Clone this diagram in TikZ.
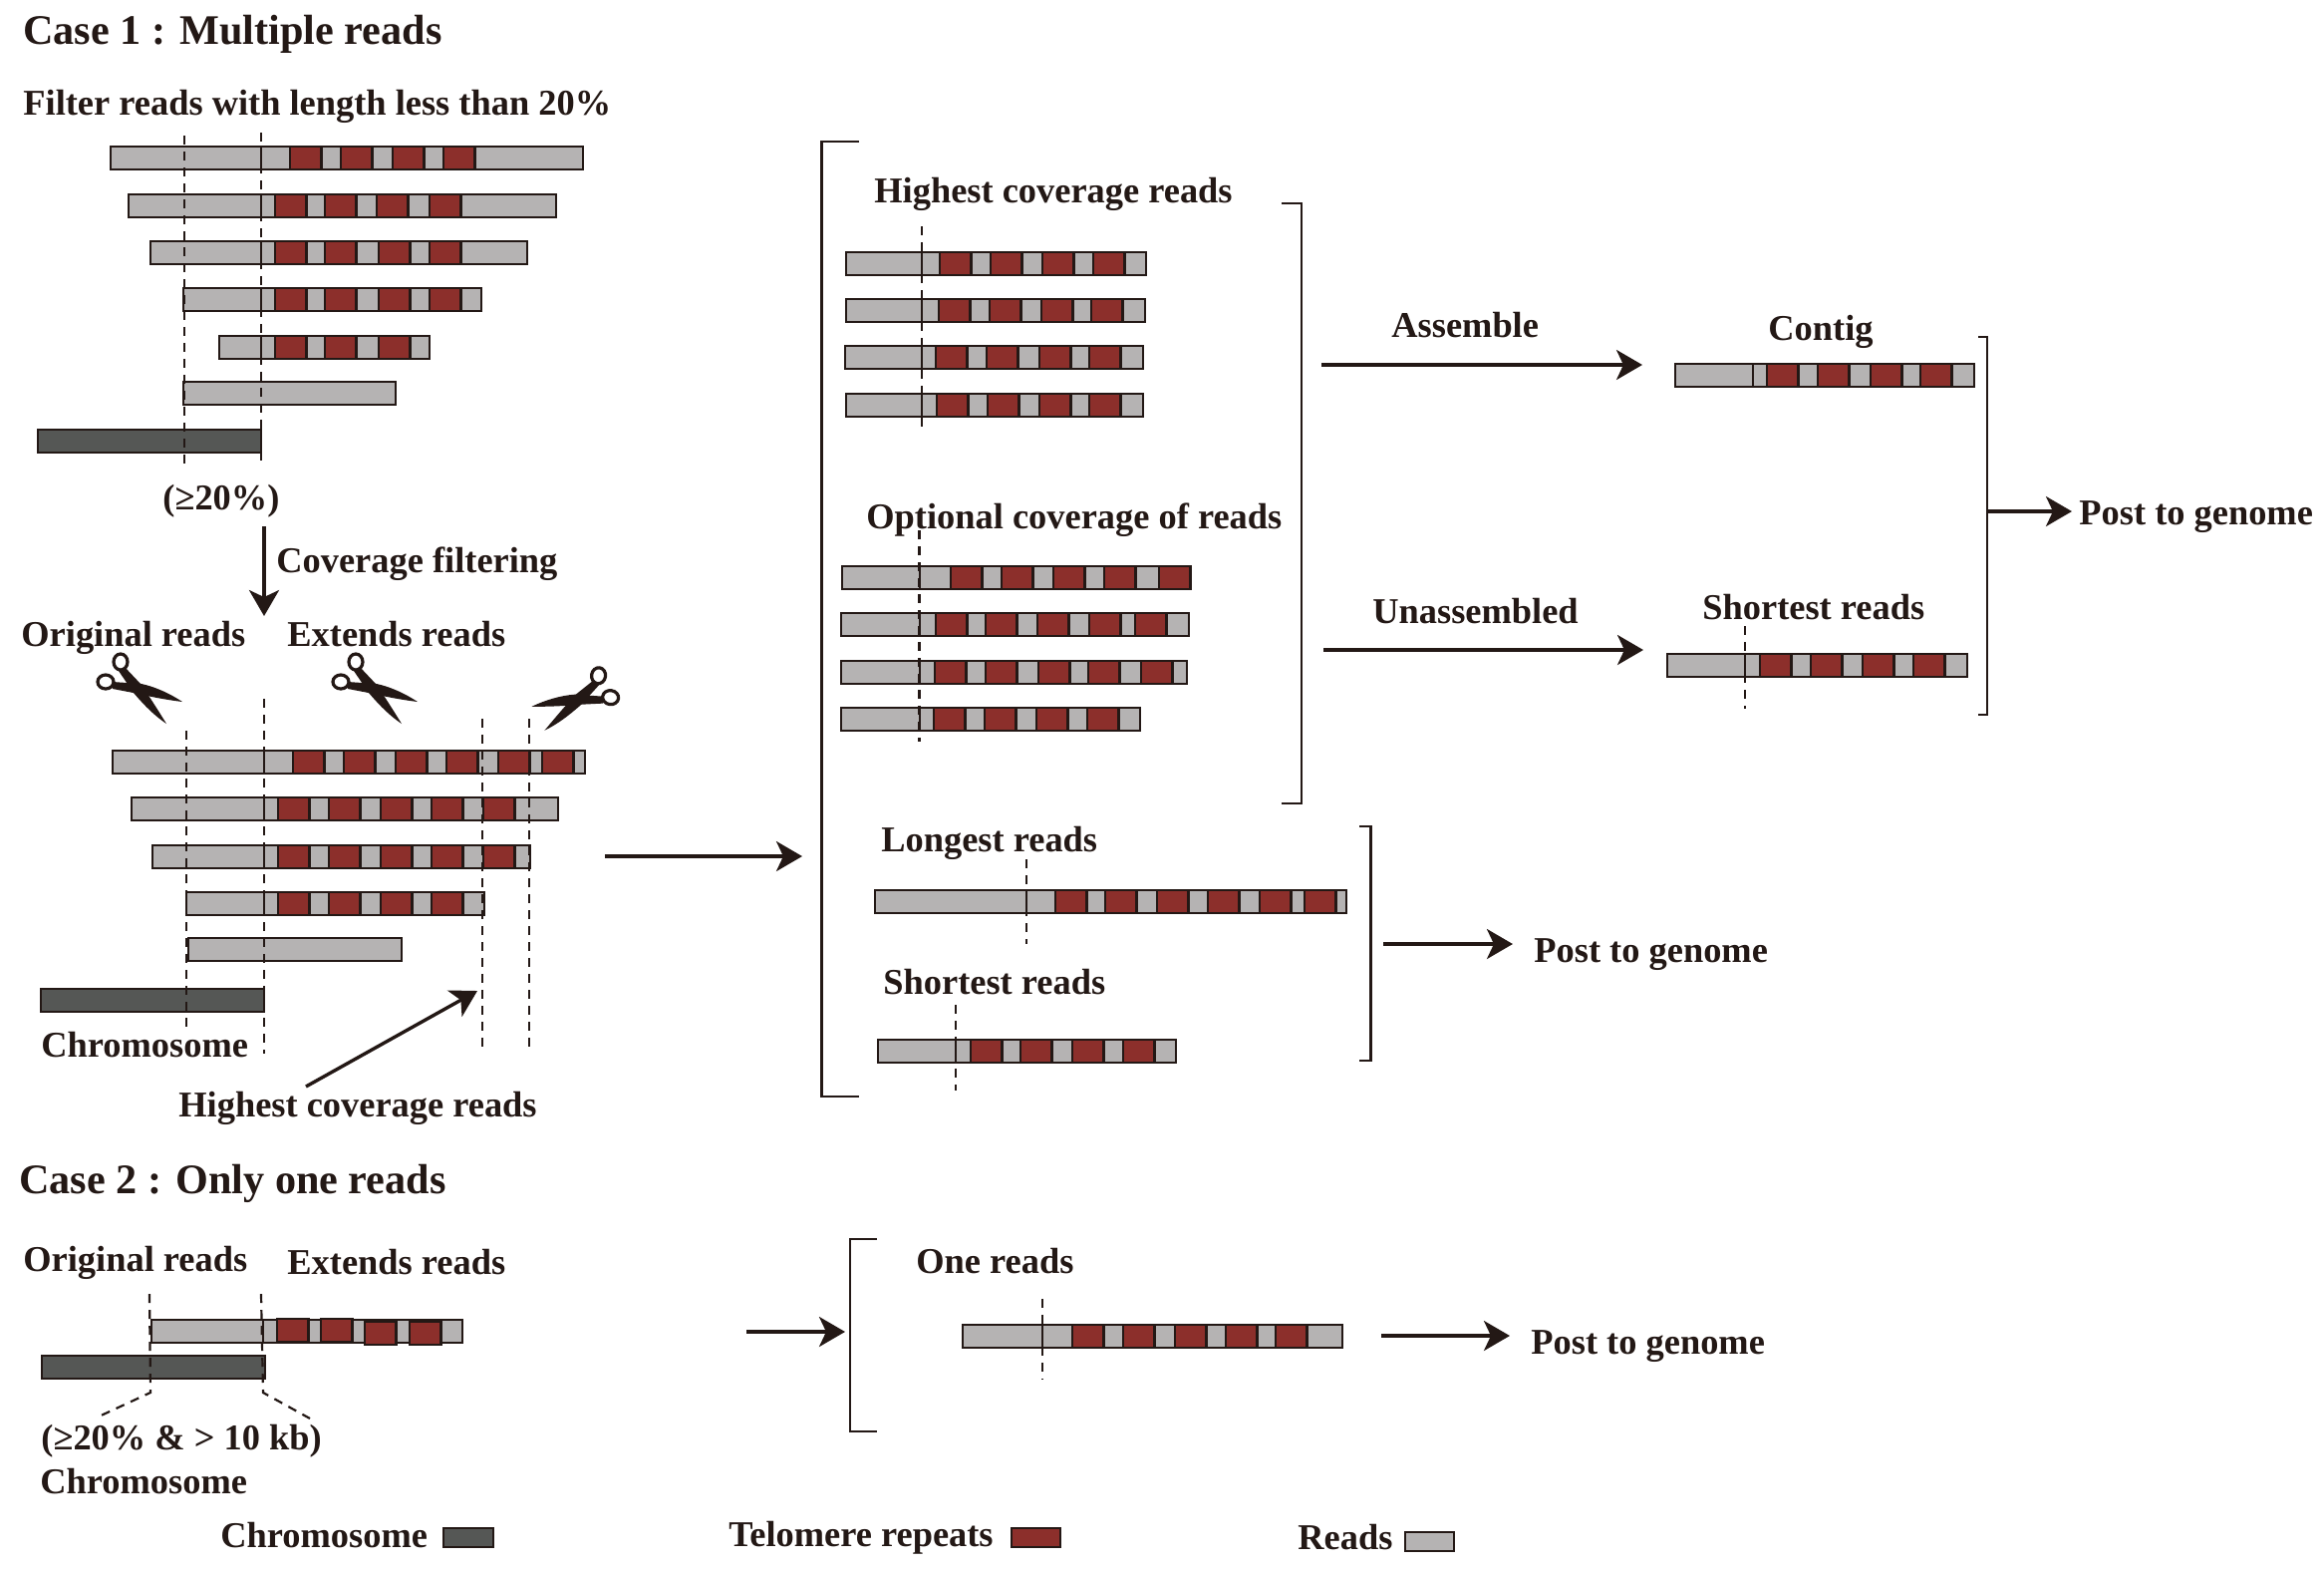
\documentclass[tikz,border=0pt]{standalone}
\usepackage{fontspec}
\setmainfont{Liberation Serif}
\usetikzlibrary{arrows.meta,positioning}
\definecolor{inkline}{HTML}{231815}
\definecolor{readgrey}{HTML}{B5B3B3}
\definecolor{repeatred}{HTML}{8C2F2B}
\definecolor{chromgrey}{HTML}{555755}
\tikzset{
  %Define standard arrow tip
    >={Stealth[length=13pt,width=15pt,inset=3.5pt]},
  %define style for boxes
  readbox/.style={
    rectangle,
    draw=inkline,line width=1.4pt,
    fill=readgrey,
    anchor=north west,
    inner sep=0pt,outer sep=0pt,
    minimum height=11.5pt},
  repeatbox/.style={
    readbox,
    fill=repeatred,
    minimum width=15.7pt},
  chrombox/.style={
    readbox,
    fill=chromgrey},
  %define style for labels
  lab/.style={
    anchor=base west,
    inner sep=0pt,
    text=inkline,
    font=\bfseries\fontsize{18.2}{20}\selectfont},
  casehead/.style={
    lab,
    font=\bfseries\fontsize{21.1}{24}\selectfont},
  %define style for lines
  flowarrow/.style={
    ->,
    draw=inkline,
    line width=1.7pt},
  cutdash/.style={
    draw=inkline,
    line width=1.1pt,
    dash pattern=on 4.5pt off 3.5pt},
  bracketline/.style={
    draw=inkline,
    line width=1.3pt},
  pics/scissor/.style={
    code={
      \fill[inkline] (-14,-22) -- (3,-4) .. controls (11,8) and (20,22) .. (28,35)
        .. controls (13,25) and (1,11) .. (-5,4) -- (-20,-18) -- cycle;
      \fill[inkline] (-26,-7) -- (3,-5) .. controls (17,-2) and (32,5) .. (44,13)
        .. controls (28,11) and (12,8) .. (0,5) -- (-26,0) -- cycle;
      \draw[inkline,line width=1.6pt] (-18,-27) ellipse [x radius=7,y radius=8];
      \draw[inkline,line width=1.6pt] (-33,-7) ellipse [x radius=8,y radius=7];
    }}
}
% name, top, starts of the repeats
\newcommand{\redrow}[3]{%
  \foreach \a in {#3} {\node[repeatbox] (#1-\a) at (\a,#2) {};}}
% name, left, right, top, cut, starts of the repeats
\newcommand{\readbar}[6]{%
  \node[readbox,minimum width={(#3-#2)*0.5pt}] (#1) at (#2,#4) {};
  \draw[inkline,line width=1.4pt] (#5,#4) -- ++(0,23);
  \redrow{#1}{#4}{#6}}

\begin{document}
\begin{tikzpicture}[x=0.5pt,y=-0.5pt]
\useasboundingbox (0,0) rectangle (2332,1576);

%titles
\node[casehead] (case1) at (23,44) {Case 1 : Multiple reads};
\node[casehead] (case2) at (19,1197) {Case 2 : Only one reads};
\node[lab] (filter) at (23,115) {Filter reads with length less than 20\%};

%case 1, filtering
\readbar{fa}{111}{585}{147}{262}{291,342,394,445}
\readbar{fb}{129}{558}{195}{262}{276,326,378,431}
\readbar{fc}{151}{529}{242}{262}{276,326,380,431}
\readbar{fd}{184}{483}{289}{262}{276,326,380,431}
\readbar{fe}{220}{431}{337}{262}{276,326,380}
\node[readbox,minimum width=106.5pt] (ff) at (184,383) {};
\node[chrombox,minimum width=112pt] (fchrom) at (38,431) {};
\foreach \x/\ya/\yb in {185/136/471,262/133/469}
  \draw[cutdash] (\x,\ya) -- (\x,\yb);
\node[lab] (pct) at (163,511) {(≥20\%)};
\node[lab] (coverage) at (277,574) {Coverage filtering};
\coordinate (filtertop) at (265,528);
\coordinate (filterend) at (265,618);
\draw[flowarrow] (filtertop) -- (filterend);

%case 1, extended reads
\node[lab] (orig) at (21,648) {Original reads};
\node[lab] (ext) at (288,648) {Extends reads};
\pic at (139,691) {scissor};
\pic at (375,691) {scissor};
\pic[rotate=-8,xscale=-1] at (579,702) {scissor};
\readbar{ea}{113}{587}{753}{265}{294,345,397,448,500,544}
\readbar{eb}{132}{560}{800}{265}{279,330,382,433,485}
\readbar{ec}{153}{532}{848}{265}{279,330,382,433,485}
\readbar{ed}{187}{486}{895}{265}{279,330,382,433}
\node[readbox,minimum width=107pt] (ee) at (189,941) {};
\node[chrombox,minimum width=112pt] (echrom) at (41,992) {};
\foreach \x/\ya/\yb in {187/733/1032,265/701/1057,484/721/1057,531/721/1057}
  \draw[cutdash] (\x,\ya) -- (\x,\yb);
\node[lab] (chrom1) at (41,1060) {Chromosome};
\node[lab] (high1) at (179,1120) {Highest coverage reads};
\coordinate (higha) at (307,1090);
\coordinate (highb) at (479,994);
\draw[flowarrow] (higha) -- (highb);
\coordinate (exta) at (607,859);
\coordinate (extb) at (805,859);
\draw[flowarrow] (exta) -- (extb);

%big bracket
\draw[bracketline] (862,142) -| (824.5,1100) -- (862,1100);
\draw[bracketline] (1286,204) -| (1306,806) -- (1286,806);

%highest coverage
\node[lab] (high2) at (877,203) {Highest coverage reads};
\readbar{ha}{849}{1150}{253}{925}{943,994,1046,1097}
\readbar{hb}{849}{1149}{300}{925}{942,993,1045,1095}
\readbar{hc}{848}{1147}{347}{925}{939,990,1043,1093}
\readbar{hd}{849}{1147}{395}{925}{940,991,1043,1093}
\draw[cutdash] (925,227) -- (925,428);

%optional coverage
\node[lab] (opt) at (869,530) {Optional coverage of reads};
\readbar{oa}{845}{1195}{568}{923}{954,1005,1057,1108,1163}
\readbar{ob}{844}{1193}{615}{923}{939,989,1041,1093,1139}
\readbar{oc}{844}{1191}{663}{923}{938,989,1042,1092,1145}
\readbar{od}{844}{1144}{710}{923}{937,988,1040,1091}
\draw[cutdash] (922.5,532) -- (922.5,744);

%longest and shortest
\node[lab] (longest) at (884,854) {Longest reads};
\readbar{la}{878}{1351}{893}{1030}{1059,1109,1161,1212,1264,1309}
\draw[cutdash] (1030,862) -- (1030,947);
\node[lab] (shortest) at (886,997) {Shortest reads};
\readbar{sa}{881}{1180}{1043}{959}{974,1024,1076,1127}
\draw[cutdash] (959,1008) -- (959,1094);
\draw[bracketline] (1364,829) -| (1375.5,1064) -- (1364,1064);
\coordinate (longa) at (1388,947);
\coordinate (longb) at (1518,947);
\draw[flowarrow] (longa) -- (longb);
\node[lab] (post2) at (1539,965) {Post to genome};

%assembly
\node[lab] (assemble) at (1396,338) {Assemble};
\coordinate (asma) at (1326,366);
\coordinate (asmb) at (1648,366);
\draw[flowarrow] (asma) -- (asmb);
\node[lab] (unasm) at (1377,625) {Unassembled};
\coordinate (unaa) at (1328,652);
\coordinate (unab) at (1649,652);
\draw[flowarrow] (unaa) -- (unab);
\node[lab] (contig) at (1774,341) {Contig};
\readbar{ca}{1681}{1981}{365}{1759}{1773,1824,1877,1927}
\node[lab] (shortest2) at (1708,621) {Shortest reads};
\readbar{cb}{1673}{1974}{656}{1751}{1766,1817,1869,1920}
\draw[cutdash] (1751,628) -- (1751,711);
\draw[bracketline] (1985,338) -| (1994,717) -- (1985,717);
\coordinate (posta) at (1994,513);
\coordinate (postb) at (2079,513);
\draw[flowarrow] (posta) -- (postb);
\node[lab] (post1) at (2086,526) {Post to genome};

%case 2
\node[lab] (orig2) at (23,1275) {Original reads};
\node[lab] (ext2) at (288,1278) {Extends reads};
\node[readbox,minimum width=156pt] (oneleft) at (152,1324) {};
\draw[inkline,line width=1.4pt] (264,1324) -- ++(0,23);
\redrow{oneleft}{1323}{278,322}
\redrow{oneleft}{1326}{366,411}
\node[chrombox,minimum width=112pt] (chrom2) at (42,1360) {};
\draw[cutdash] (150,1298) -- (151,1397) -- (97,1422);
\draw[cutdash] (262,1298) -- (264,1397) -- (311,1423);
\node[lab] (pct2) at (41,1454) {(≥20\% \& > 10 kb)};
\node[lab] (chrom3) at (40,1498) {Chromosome};
\coordinate (onea) at (749,1336);
\coordinate (oneb) at (848,1336);
\draw[flowarrow] (onea) -- (oneb);
\draw[bracketline] (880,1243) -| (853,1436) -- (880,1436);
\node[lab] (onereads) at (919,1277) {One reads};
\readbar{oneread}{966}{1347}{1329}{1046}{1076,1127,1179,1230,1280}
\draw[cutdash] (1046,1303) -- (1046,1384);
\coordinate (twoa) at (1386,1340);
\coordinate (twob) at (1515,1340);
\draw[flowarrow] (twoa) -- (twob);
\node[lab] (post3) at (1536,1358) {Post to genome};

%legend
\node[lab] (legchrom) at (221,1552) {Chromosome};
\node[chrombox,minimum width=25pt,minimum height=9.5pt] (legc) at (445,1533) {};
\node[lab] (legtel) at (731,1551) {Telomere repeats};
\node[repeatbox,minimum width=24.5pt,minimum height=9.5pt] (legt) at (1015,1533) {};
\node[lab] (legread) at (1302,1554) {Reads};
\node[readbox,minimum width=24.5pt,minimum height=9.5pt] (legr) at (1410,1537) {};

\end{tikzpicture}
\end{document}
